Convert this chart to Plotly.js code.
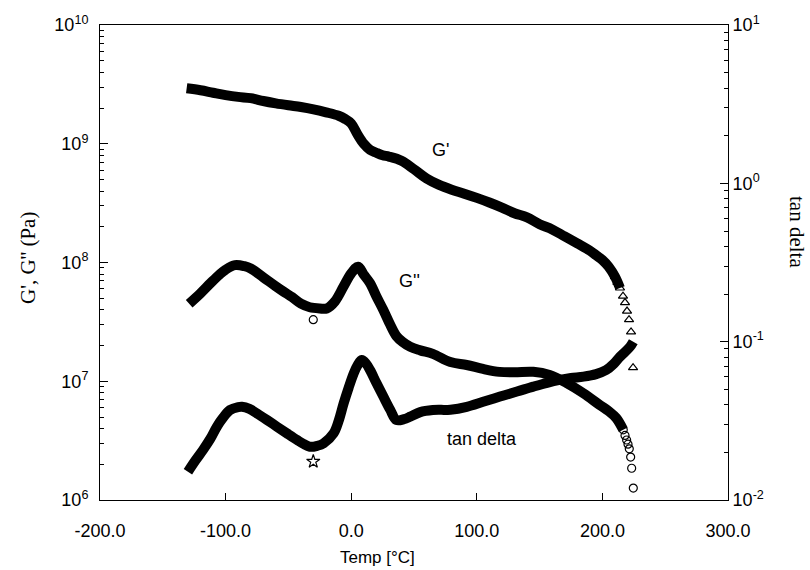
<!DOCTYPE html>
<html>
<head>
<meta charset="utf-8">
<script src="https://cdn.plot.ly/plotly-3.0.1.min.js"></script>
<style>
  html, body { margin: 0; padding: 0; background: #fff; }
  #chart { width: 810px; height: 570px; }
</style>
</head>
<body>
<div id="chart"></div>
<script>
// Storage modulus G' (Pa) versus temperature (°C)
const tempGp = [-131, -120, -110, -100, -90, -80, -70, -60, -50, -40, -30, -20, -10, -5, 0, 5, 10, 15, 20, 25, 30, 40, 50, 60, 70, 80, 90, 100, 110, 120, 130, 140, 150, 160, 170, 180, 190, 195, 200, 205, 210, 214];
const gPrime = [2.93e9, 2.82e9, 2.69e9, 2.57e9, 2.48e9, 2.42e9, 2.29e9, 2.19e9, 2.11e9, 2.04e9, 1.95e9, 1.84e9, 1.72e9, 1.62e9, 1.48e9, 1.20e9, 1.0e9, 8.9e8, 8.4e8, 8.0e8, 7.8e8, 7.2e8, 6.1e8, 5.1e8, 4.5e8, 4.1e8, 3.8e8, 3.5e8, 3.2e8, 2.9e8, 2.6e8, 2.4e8, 2.1e8, 1.9e8, 1.66e8, 1.45e8, 1.26e8, 1.15e8, 1.05e8, 9.2e7, 7.6e7, 6.1e7];
// Last, sparser G' readings near the end of the scan
const tempGpTail = [210, 212, 214, 216.4, 218, 219.6, 221.2, 222.8, 224.4];
const gPrimeTail = [7.6e7, 6.8e7, 6.1e7, 5.2e7, 4.6e7, 3.9e7, 3.3e7, 2.6e7, 1.3e7];

// Loss modulus G'' (Pa)
const tempGpp = [-129, -120, -112, -105, -100, -92.5, -85, -80, -70, -60, -54, -47, -40, -33, -25, -19.5, -13, -6, 0, 5.5, 10, 15, 20, 25.5, 31, 36, 41, 47, 55, 65, 79, 92, 105, 118, 130, 145, 158, 172, 185, 198, 205, 211, 216.6];
const gDouble = [4.5e7, 5.5e7, 6.7e7, 7.9e7, 8.7e7, 9.5e7, 9.3e7, 8.9e7, 7.5e7, 6.3e7, 5.7e7, 5.1e7, 4.5e7, 4.2e7, 4.1e7, 4.1e7, 4.7e7, 6.3e7, 8.1e7, 9.2e7, 7.9e7, 6.7e7, 5.2e7, 4.0e7, 3.0e7, 2.4e7, 2.14e7, 1.95e7, 1.82e7, 1.7e7, 1.45e7, 1.37e7, 1.27e7, 1.2e7, 1.19e7, 1.2e7, 1.13e7, 9.6e6, 7.9e6, 6.3e6, 5.6e6, 4.9e6, 3.9e6];
const tempGppTail = [-30.2, 216.6, 218, 219.3, 220.4, 221.4, 222.5, 223.3, 224.6];
const gDoubleTail = [3.3e7, 3.9e6, 3.5e6, 3.2e6, 2.95e6, 2.7e6, 2.3e6, 1.85e6, 1.26e6];

// Loss tangent (right axis)
const tempTan = [-130, -124, -118, -112, -107, -102, -96.5, -90, -87, -81, -75, -67, -59, -51, -43, -38, -33, -27, -22, -14, -10, -6, -2, 2, 5, 8.4, 12, 15, 20, 25.6, 31, 36, 42, 47, 55, 65, 79, 92, 105, 118.5, 132, 145, 156, 166, 175, 185, 195, 203, 209, 214, 218, 222, 224.6];
const tanDelta = [0.0151, 0.0178, 0.0207, 0.0245, 0.029, 0.0331, 0.037, 0.0386, 0.0388, 0.0376, 0.0352, 0.032, 0.029, 0.0263, 0.0239, 0.0226, 0.0217, 0.022, 0.0228, 0.0264, 0.0316, 0.0408, 0.0513, 0.0631, 0.0708, 0.0766, 0.0724, 0.0662, 0.055, 0.045, 0.0372, 0.032, 0.0324, 0.0336, 0.0359, 0.037, 0.0372, 0.0388, 0.0417, 0.045, 0.0484, 0.052, 0.055, 0.0573, 0.0589, 0.0601, 0.0624, 0.0662, 0.0724, 0.0804, 0.0861, 0.0929, 0.1];
const tempTanExtra = [-30.2];
const tanDeltaExtra = [0.0175];

// Axis ticks and their labels
const xTicks = [-200, -100, 0, 100, 200, 300];
const xTickText = ['-200.0', '-100.0', '0.0', '100.0', '200.0', '300.0'];
const modTicks = [1e6, 1e7, 1e8, 1e9, 1e10];
const modTickText = ['10<sup>6</sup>', '10<sup>7</sup>', '10<sup>8</sup>', '10<sup>9</sup>', '10<sup>10</sup>'];
const tanTicks = [0.01, 0.1, 1, 10];
const tanTickText = ['10<sup>-2</sup>', '10<sup>-1</sup>', '10<sup>0</sup>', '10<sup>1</sup>'];

const sans = 'Liberation Sans, Arial, sans-serif';
const serif = 'Liberation Serif, Times New Roman, serif';
const band = { color: '#000', width: 10, shape: 'spline', smoothing: 1 };

const traces = [
  { x: tempGp, y: gPrime, mode: 'lines', line: band, xaxis: 'x', yaxis: 'y' },
  { x: tempGpTail, y: gPrimeTail, mode: 'markers', xaxis: 'x', yaxis: 'y',
    marker: { symbol: 'triangle-up-open', size: 8, color: '#000', line: { width: 1.2, color: '#000' } } },
  { x: tempGpp, y: gDouble, mode: 'lines', line: band, xaxis: 'x', yaxis: 'y' },
  { x: tempGppTail, y: gDoubleTail, mode: 'markers', xaxis: 'x', yaxis: 'y',
    marker: { symbol: 'circle-open', size: 8, color: '#000', line: { width: 1.2, color: '#000' } } },
  { x: tempTan, y: tanDelta, mode: 'lines', line: band, xaxis: 'x', yaxis: 'y2' },
  { x: tempTanExtra, y: tanDeltaExtra, mode: 'markers', xaxis: 'x', yaxis: 'y2',
    marker: { symbol: 'star-open', size: 10, color: '#000', line: { width: 1.2, color: '#000' } } }
];

const axisCommon = {
  showline: true, linecolor: '#000', linewidth: 1,
  ticks: 'inside', tickcolor: '#000', tickwidth: 1,
  showgrid: false, zeroline: false,
  tickfont: { family: sans, size: 18, color: '#000' }
};
const minorLog = { ticks: 'inside', ticklen: 4, dtick: 'D1', tickcolor: '#000', showgrid: false };

// Text placed in the figure, positioned by its centre
function label(text, px, py, font, angle) {
  return {
    text: text, xref: 'paper', yref: 'paper',
    x: (px - 100) / 628, y: (500 - py) / 475,
    xanchor: 'center', yanchor: 'middle', showarrow: false,
    textangle: angle || 0, font: font
  };
}
const labelFont = { family: sans, size: 18, color: '#000' };
const titleFont = { family: serif, size: 21, color: '#000' };

const layout = {
  width: 810, height: 570,
  margin: { l: 100, r: 82, t: 25, b: 70 },
  paper_bgcolor: '#fff', plot_bgcolor: '#fff',
  showlegend: false,
  xaxis: Object.assign({}, axisCommon, {
    range: [-200, 300], tickmode: 'array', tickvals: xTicks, ticktext: xTickText,
    ticklen: 7, mirror: true, ticklabelstandoff: 14
  }),
  yaxis: Object.assign({}, axisCommon, {
    type: 'log', range: [6, 10], tickmode: 'array', tickvals: modTicks, ticktext: modTickText,
    ticklen: 8, minor: minorLog, ticklabelstandoff: 7
  }),
  yaxis2: Object.assign({}, axisCommon, {
    type: 'log', range: [-2, 1], tickmode: 'array', tickvals: tanTicks, ticktext: tanTickText,
    ticklen: 8, overlaying: 'y', side: 'right', minor: minorLog
  }),
  annotations: [
    label("G'", 440, 150, labelFont),
    label("G''", 409, 281, labelFont),
    label('tan delta', 482, 439, labelFont),
    label('Temp [°C]', 377, 557, { family: sans, size: 17, color: '#000' }),
    label("G', G'' (Pa)", 28, 258, titleFont, -90),
    label('tan delta', 797, 232, titleFont, 90)
  ]
};

Plotly.newPlot('chart', traces, layout, { staticPlot: true, displayModeBar: false });
</script>
</body>
</html>
